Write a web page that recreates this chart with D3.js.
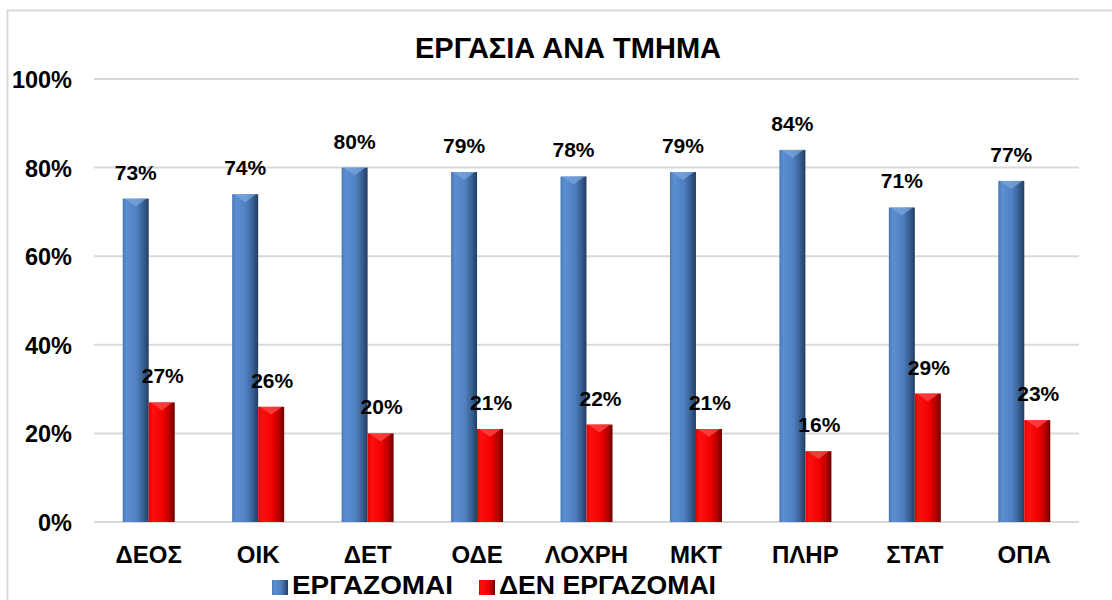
<!DOCTYPE html>
<html>
<head>
<meta charset="utf-8">
<script src="https://cdn.jsdelivr.net/npm/d3@7"></script>
<style>
  body { margin: 0; background: #fff; }
</style>
</head>
<body>
<svg id="chart" width="1112" height="600"></svg>
<script>
const categories = ["ΔΕΟΣ", "ΟΙΚ", "ΔΕΤ", "ΟΔΕ", "ΛΟΧΡΗ", "ΜΚΤ", "ΠΛΗΡ", "ΣΤΑΤ", "ΟΠΑ"];
const working = [73, 74, 80, 79, 78, 79, 84, 71, 77];
const notWorking = [27, 26, 20, 21, 22, 21, 16, 29, 23];
const seriesNames = ["ΕΡΓΑΖΟΜΑΙ", "ΔΕΝ ΕΡΓΑΖΟΜΑΙ"];
const yTicks = [0, 20, 40, 60, 80, 100];

const FONT = "Liberation Sans";
const svg = d3.select("#chart");
const margin = {top: 79, left: 94, right: 33, bottom: 78};
const width = 1112 - margin.left - margin.right,
  height = 600 - margin.top - margin.bottom;

function label(sel, size) {
  return sel.attr("font-family", FONT).attr("font-weight", 700)
    .attr("font-size", size).attr("fill", "#000");
}

// gradients
const defs = svg.append("defs");
function grad(id, stops) {
  let g = defs.append("linearGradient").attr("id", id)
    .attr("x1", "0").attr("x2", "1").attr("y1", "0").attr("y2", "0");
  stops.forEach(s => g.append("stop").attr("offset", s[0]).attr("stop-color", s[1]));
}
grad("gBlue", [[0, "#4a78b4"], [0.15, "#5b8fd2"], [0.55, "#4f7fbf"], [0.8, "#375e92"], [1, "#233d60"]]);
grad("gRed", [[0, "#e00000"], [0.15, "#ff1010"], [0.55, "#f00000"], [0.8, "#b80000"], [1, "#6e0000"]]);
const colors = ["url(#gBlue)", "url(#gRed)"];
const tipColors = ["#7fa8e0", "#ff5050"];

// frame
svg.append("rect").attr("x", 7.5).attr("y", 10.5).attr("width", 1120).attr("height", 600)
  .attr("fill", "none").attr("stroke", "#d9d9d9").attr("stroke-width", 2);

label(svg.append("text"), 29).attr("x", 568).attr("y", 58).attr("text-anchor", "middle")
  .text("ΕΡΓΑΣΙΑ ΑΝΑ ΤΜΗΜΑ");

const g = svg.append("g").attr("transform", "translate(" + margin.left + "," + margin.top + ")");

const x0 = d3.scaleBand().domain(categories).range([0, width]).padding(0);
const bw = 26;
const x1 = d3.scaleBand().domain(seriesNames)
  .range([x0.bandwidth() / 2 - bw, x0.bandwidth() / 2 + bw]).padding(0);
const y = d3.scaleLinear().domain([0, 100]).range([height, 0]);

// grid
g.selectAll(".grid").data(yTicks).enter().append("line")
  .attr("x1", 0).attr("x2", width)
  .attr("y1", d => y(d)).attr("y2", d => y(d))
  .attr("stroke", "#d9d9d9").attr("stroke-width", 2);

// y axis labels
label(g.selectAll(".ylab").data(yTicks).enter().append("text"), 23.5)
  .attr("x", -22).attr("y", d => y(d) + 9)
  .attr("text-anchor", "end")
  .text(d => d + "%");

// x axis labels
label(g.selectAll(".xlab").data(categories).enter().append("text"), 24)
  .attr("x", d => x0(d) + x0.bandwidth() / 2).attr("y", height + 41)
  .attr("text-anchor", "middle")
  .text(d => d);

const data = categories.map((c, i) => ({cat: c, vals: [working[i], notWorking[i]]}));

const groups = g.selectAll(".grp").data(data).enter().append("g")
  .attr("transform", d => "translate(" + x0(d.cat) + ",0)");

seriesNames.forEach((s, si) => {
  groups.append("rect")
    .attr("x", x1(s)).attr("y", d => y(d.vals[si]))
    .attr("width", x1.bandwidth()).attr("height", d => height - y(d.vals[si]))
    .attr("fill", colors[si]);
  // bevel tip
  groups.append("path")
    .attr("d", d => {
      let xl = x1(s), xr = xl + x1.bandwidth(), yt = y(d.vals[si]);
      return "M" + (xl + 2) + "," + yt + "L" + (xr - 2) + "," + yt + "L" + (xl + x1.bandwidth() / 2) + "," + (yt + 8) + "Z";
    })
    .attr("fill", tipColors[si]).attr("opacity", 0.7);
  label(groups.append("text"), 21)
    .attr("x", x1(s) + x1.bandwidth() / 2 + (si === 1 ? 1 : 0))
    .attr("y", d => y(d.vals[si]) - 19)
    .attr("text-anchor", "middle")
    .text(d => d.vals[si] + "%");
});

// legend
const legend = svg.append("g");
const legX = [272, 479];
const legW = [161, 217];
seriesNames.forEach((s, i) => {
  legend.append("rect").attr("x", legX[i]).attr("y", 580).attr("width", 16).attr("height", 15)
    .attr("fill", colors[i]);
  label(legend.append("text"), 25).attr("x", legX[i] + 20).attr("y", 594)
    .attr("textLength", legW[i]).attr("lengthAdjust", "spacingAndGlyphs").text(s);
});
</script>
</body>
</html>
